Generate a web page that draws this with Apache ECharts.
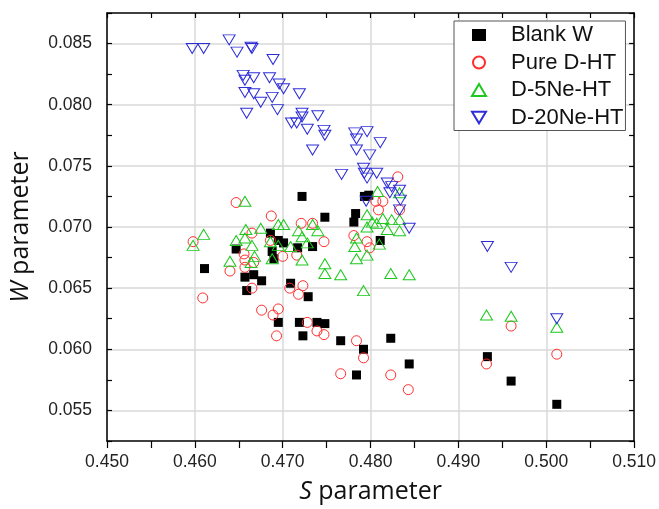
<!DOCTYPE html>
<html>
<head>
<meta charset="utf-8">
<script src="https://cdn.jsdelivr.net/npm/echarts@6/dist/echarts.min.js"></script>
<style>
  html, body { margin: 0; padding: 0; background: #fff; }
  #chart { width: 659px; height: 509px; }
</style>
</head>
<body>
<div id="chart"></div>
<script>
// S / W parameter pairs
var blankS = [0.4611, 0.4647, 0.4657, 0.4667, 0.4659, 0.4676, 0.4709, 0.4729, 0.4695, 0.4719, 0.4723, 0.4739,
  0.4748, 0.4766, 0.4784, 0.4792, 0.4823, 0.4844, 0.4933, 0.4960, 0.5012, 0.4722, 0.4748, 0.4686,
  0.4695, 0.4701, 0.4717, 0.4734, 0.4688, 0.4690, 0.4781, 0.4783, 0.4793, 0.4798, 0.4811];
var blankW = [0.0666, 0.0682, 0.0659, 0.0661, 0.0648, 0.0656, 0.0654, 0.0643, 0.0622, 0.0622, 0.0611, 0.0622,
  0.0621, 0.0607, 0.0579, 0.0600, 0.0609, 0.0588, 0.0594, 0.0574, 0.0555, 0.0725, 0.0708, 0.0695,
  0.0689, 0.0687, 0.0683, 0.0684, 0.0680, 0.0674, 0.0704, 0.0711, 0.0725, 0.0726, 0.0689];

var pureS = [0.4598, 0.4609, 0.4640, 0.4647, 0.4657, 0.4657, 0.4656, 0.4665, 0.4665, 0.4667, 0.4676, 0.4689,
  0.4695, 0.4693, 0.4686, 0.4687, 0.4700, 0.4708, 0.4718, 0.4723, 0.4716, 0.4721, 0.4734, 0.4728,
  0.4739, 0.4747, 0.4747, 0.4766, 0.4784, 0.4792, 0.4823, 0.4843, 0.4932, 0.4960, 0.5012, 0.4781,
  0.4796, 0.4799, 0.4806, 0.4814, 0.4809, 0.4833, 0.4831];
var pureW = [0.0688, 0.0642, 0.0664, 0.0720, 0.0667, 0.0673, 0.0678, 0.0695, 0.0650, 0.0671, 0.0632, 0.0628,
  0.0633, 0.0611, 0.0689, 0.0709, 0.0676, 0.0650, 0.0645, 0.0652, 0.0677, 0.0703, 0.0703, 0.0622,
  0.0615, 0.0612, 0.0688, 0.0580, 0.0607, 0.0593, 0.0579, 0.0567, 0.0588, 0.0619, 0.0596, 0.0693,
  0.0688, 0.0683, 0.0721, 0.0721, 0.0714, 0.0714, 0.0741];

var ne5S = [0.4598, 0.4610, 0.4657, 0.4640, 0.4647, 0.4657, 0.4658, 0.4665, 0.4664, 0.4668, 0.4675, 0.4686,
  0.4688, 0.4695, 0.4701, 0.4695, 0.4709, 0.4718, 0.4722, 0.4728, 0.4722, 0.4734, 0.4740, 0.4748,
  0.4748, 0.4766, 0.4782, 0.4784, 0.4784, 0.4796, 0.4792, 0.4796, 0.4796, 0.4802, 0.4807, 0.4810,
  0.4814, 0.4819, 0.4824, 0.4833, 0.4833, 0.4808, 0.4833, 0.4823, 0.4844, 0.4932, 0.4960, 0.5012];
var ne5W = [0.0685, 0.0694, 0.0721, 0.0672, 0.0689, 0.0691, 0.0698, 0.0685, 0.0671, 0.0676, 0.0699, 0.0688,
  0.0674, 0.0702, 0.0702, 0.0685, 0.0684, 0.0697, 0.0692, 0.0687, 0.0673, 0.0702, 0.0697, 0.0670,
  0.0662, 0.0661, 0.0684, 0.0691, 0.0674, 0.0677, 0.0648, 0.0700, 0.0710, 0.0704, 0.0703, 0.0686,
  0.0707, 0.0698, 0.0706, 0.0706, 0.0697, 0.0729, 0.0728, 0.0662, 0.0661, 0.0628, 0.0627, 0.0618];

var ne20S = [0.4597, 0.4610, 0.4639, 0.4648, 0.4664, 0.4665, 0.4689, 0.4655, 0.4657, 0.4667, 0.4685, 0.4696,
  0.4701, 0.4719, 0.4657, 0.4667, 0.4675, 0.4688, 0.4694, 0.4659, 0.4722, 0.4722, 0.4740, 0.4710,
  0.4716, 0.4728, 0.4747, 0.4748, 0.4734, 0.4782, 0.4796, 0.4784, 0.4811, 0.4784, 0.4799, 0.4792,
  0.4767, 0.4793, 0.4796, 0.4807, 0.4819, 0.4824, 0.4822, 0.4833, 0.4834, 0.4795, 0.4833, 0.4844,
  0.4933, 0.4960, 0.5012];
var ne20W = [0.0846, 0.0846, 0.0853, 0.0843, 0.0847, 0.0846, 0.0837, 0.0824, 0.0820, 0.0822, 0.0822, 0.0817,
  0.0813, 0.0809, 0.0810, 0.0809, 0.0802, 0.0806, 0.0796, 0.0793, 0.0793, 0.0790, 0.0791, 0.0785,
  0.0785, 0.0780, 0.0779, 0.0775, 0.0763, 0.0777, 0.0778, 0.0772, 0.0769, 0.0763, 0.0759, 0.0748,
  0.0743, 0.0744, 0.0740, 0.0744, 0.0736, 0.0733, 0.0728, 0.0730, 0.0722, 0.0721, 0.0714, 0.0699,
  0.0684, 0.0667, 0.0625];

var seriesNames = ['Blank W', 'Pure D-HT', 'D-5Ne-HT', 'D-20Ne-HT'];

function pairs(xs, ys) {
  return xs.map(function (x, i) { return [x, ys[i]]; });
}

function initChart(dom) {
  var myChart = echarts.init(dom, null, { renderer: 'canvas' }),
    labelFont = 'Liberation Sans, Arial, sans-serif',
    titleFont = 'Open Sans, Liberation Sans, sans-serif',
    downTri = 'path://M0,0L12,0L6,10Z',
    axisBase = {
      axisLine: { show: true, onZero: false, lineStyle: { color: '#000', width: 1.5 } },
      splitLine: { show: false },
      axisLabel: { show: false },
      axisTick: { show: true, inside: true, length: 5, lineStyle: { color: '#000', width: 1.2 } }
    },
    hollow = function (c) {
      return { color: 'rgba(0,0,0,0)', borderColor: c, borderWidth: 1, opacity: 1 };
    },
    option = {
      backgroundColor: '#fff',
      animation: false,
      grid: { left: 106, right: 24, top: 13, bottom: 67 },
      legend: {
        orient: 'vertical',
        left: 454,
        top: 21,
        data: [seriesNames[0], seriesNames[1], seriesNames[2], { name: seriesNames[3], icon: downTri }],
        backgroundColor: '#fff',
        borderColor: '#555',
        borderWidth: 1,
        padding: [3, 2, 2, 17],
        itemGap: 5.5,
        itemWidth: 14,
        itemHeight: 12,
        textStyle: { fontSize: 22, fontFamily: labelFont, color: '#111', padding: [0, 0, 0, 20] }
      },
      xAxis: [
        {
          type: 'value',
          position: 'bottom',
          min: 0.45,
          max: 0.51,
          interval: 0.005,
          name: '{i|S} parameter',
          nameLocation: 'middle',
          nameGap: 38,
          nameTextStyle: {
            fontSize: 25,
            fontFamily: titleFont,
            color: '#111',
            rich: { i: { fontStyle: 'italic', fontSize: 25, fontFamily: titleFont, color: '#111' } }
          },
          axisLine: { show: true, onZero: false, lineStyle: { color: '#000', width: 1.5 } },
          axisTick: { show: true, inside: false, length: 7, lineStyle: { color: '#000', width: 1.2 } },
          axisLabel: {
            fontSize: 17.5,
            fontFamily: labelFont,
            color: '#222',
            margin: 12,
            formatter: function (v) {
              return Math.round(v * 1000) % 10 === 0 ? v.toFixed(3) : '';
            }
          },
          splitLine: { show: true, lineStyle: { color: ['#d9d9d9', 'rgba(0,0,0,0)'], width: 1.5 } }
        },
        Object.assign({
          type: 'value', position: 'top', min: 0.45, max: 0.51, interval: 0.005
        }, axisBase)
      ],
      yAxis: [
        {
          type: 'value',
          position: 'left',
          min: 0.0525,
          max: 0.0875,
          interval: 0.0025,
          name: '{i|W} parameter',
          nameLocation: 'middle',
          nameGap: 74,
          nameTextStyle: {
            fontSize: 25,
            fontFamily: titleFont,
            color: '#111',
            rich: { i: { fontStyle: 'italic', fontSize: 25, fontFamily: titleFont, color: '#111' } }
          },
          axisLine: { show: true, onZero: false, lineStyle: { color: '#000', width: 1.5 } },
          axisTick: { show: true, inside: true, length: 5, lineStyle: { color: '#000', width: 1.2 } },
          axisLabel: {
            fontSize: 17.5,
            fontFamily: labelFont,
            color: '#222',
            margin: 15,
            formatter: function (v) {
              return Math.round(v * 10000) % 50 === 0 ? v.toFixed(3) : '';
            }
          },
          splitLine: { show: true, lineStyle: { color: ['rgba(0,0,0,0)', '#d9d9d9'], width: 1.5 } }
        },
        Object.assign({
          type: 'value', position: 'right', min: 0.0525, max: 0.0875, interval: 0.0025
        }, axisBase)
      ],
      series: [
        {
          name: seriesNames[0],
          type: 'scatter',
          symbol: 'rect',
          symbolSize: 9,
          itemStyle: { color: '#000', opacity: 1 },
          data: pairs(blankS, blankW)
        },
        {
          name: seriesNames[1],
          type: 'scatter',
          symbol: 'circle',
          symbolSize: 10,
          itemStyle: hollow('#ff2e2e'),
          data: pairs(pureS, pureW)
        },
        {
          name: seriesNames[2],
          type: 'scatter',
          symbol: 'triangle',
          symbolSize: [12, 10],
          itemStyle: hollow('#1ec81e'),
          data: pairs(ne5S, ne5W)
        },
        {
          name: seriesNames[3],
          type: 'scatter',
          symbol: 'triangle',
          symbolRotate: 180,
          symbolSize: [12, 10],
          itemStyle: hollow('#2e2ed8'),
          data: pairs(ne20S, ne20W)
        }
      ]
    };
  myChart.setOption(option, true);
  window.addEventListener('resize', function () {
    myChart.resize();
  });
}

initChart(document.getElementById('chart'));
</script>
</body>
</html>
